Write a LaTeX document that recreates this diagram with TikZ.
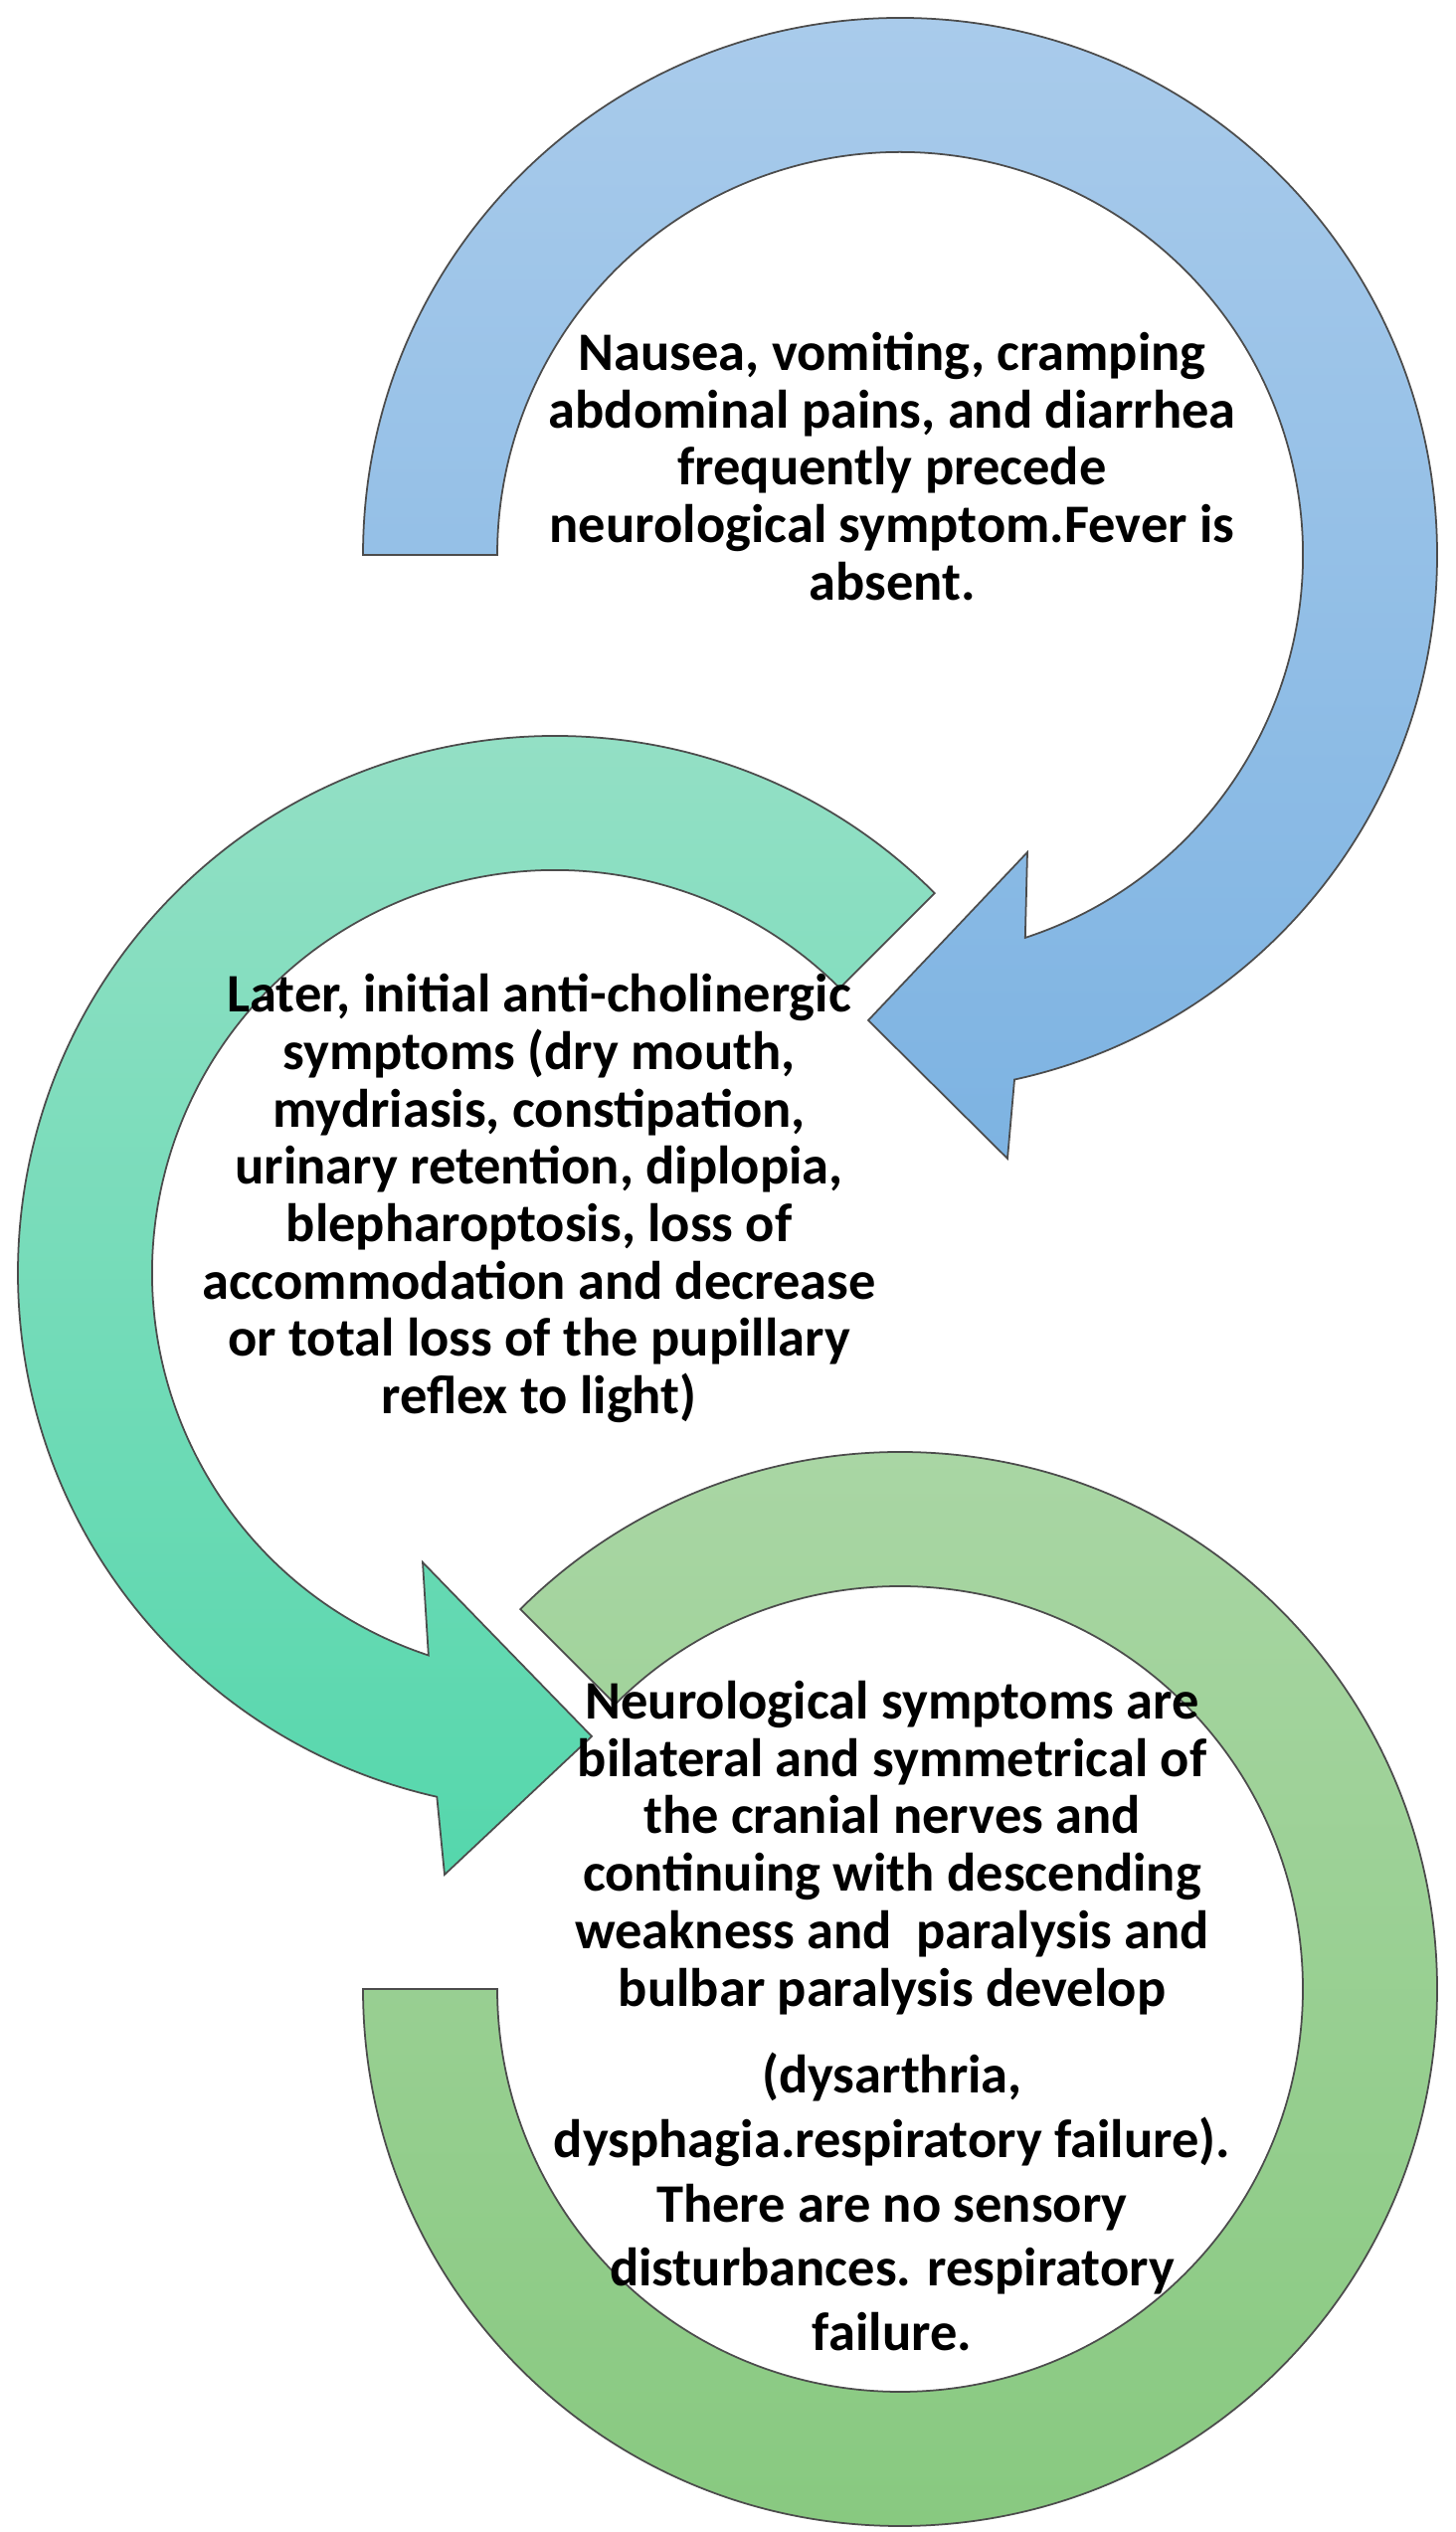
\documentclass[tikz,border=0pt]{standalone}
\usepackage{fontspec}
\setmainfont{Carlito}
\usetikzlibrary{calc}
\begin{document}
\begin{tikzpicture}[x=0.01cm,y=0.01cm,
  band/.style={draw=#1, line width=0.5pt, line join=miter},
  lbl/.style={align=center, font=\fontsize{15.5}{16.4}\selectfont\bfseries, text=black, inner sep=0pt},
  lblb/.style={align=center, font=\fontsize{15.5}{18.4}\selectfont\bfseries, text=black, inner sep=0pt}]
\definecolor{blueT}{HTML}{A9CBEB}\definecolor{blueB}{HTML}{7DB3E2}
\definecolor{tealT}{HTML}{96E0C6}\definecolor{tealB}{HTML}{55D7AC}
\definecolor{grnT}{HTML}{A9D6A4}\definecolor{grnB}{HTML}{88C980}
\useasboundingbox (0,0) rectangle (1463,2546);
% green ring
\path[band=gray!60!black, top color=grnT, bottom color=grnB]
  (905,546) ++(180:540) arc[start angle=180,end angle=495,radius=540]
  -- ($(905,546)+(135:405)$) arc[start angle=135,end angle=-180,radius=405] -- cycle;
% teal arrow
\path[band=gray!60!black, top color=tealT, bottom color=tealB]
  (558,1266) ++(45:540) arc[start angle=45,end angle=257.3,radius=540]
  -- (447,661) -- (595,800) -- (425,975)
  -- ($(558,1266)+(251.7:405)$) arc[start angle=251.7,end angle=45,radius=405] -- cycle;
% blue arrow
\path[band=gray!60!black, top color=blueT, bottom color=blueB]
  (905,1988) ++(180:540) arc[start angle=180,end angle=-77.7,radius=540]
  -- (1013,1381) -- (873,1520) -- (1033,1689)
  -- ($(905,1988)+(-71.9:405)$) arc[start angle=-71.9,end angle=180,radius=405] -- cycle;
\node[lbl] (t1) at (897,2077) {Nausea, vomiting, cramping\\abdominal pains, and diarrhea\\frequently precede\\neurological symptom.Fever is\\absent.};
\node[lbl] (t2) at (542,1341) {Later, initial anti-cholinergic\\symptoms (dry mouth,\\mydriasis, constipation,\\urinary retention, diplopia,\\blepharoptosis, loss of\\accommodation and decrease\\or total loss of the pupillary\\reflex to light)};
\node[lbl] (t3) at (897,688) {Neurological symptoms are\\bilateral and symmetrical of\\the cranial nerves and\\continuing with descending\\weakness and\ \ paralysis and\\bulbar paralysis develop};
\node[lblb] (t4) at (897,332) {(dysarthria,\\dysphagia.respiratory failure).\\There are no sensory\\disturbances. respiratory\\failure.};
\end{tikzpicture}
\end{document}
